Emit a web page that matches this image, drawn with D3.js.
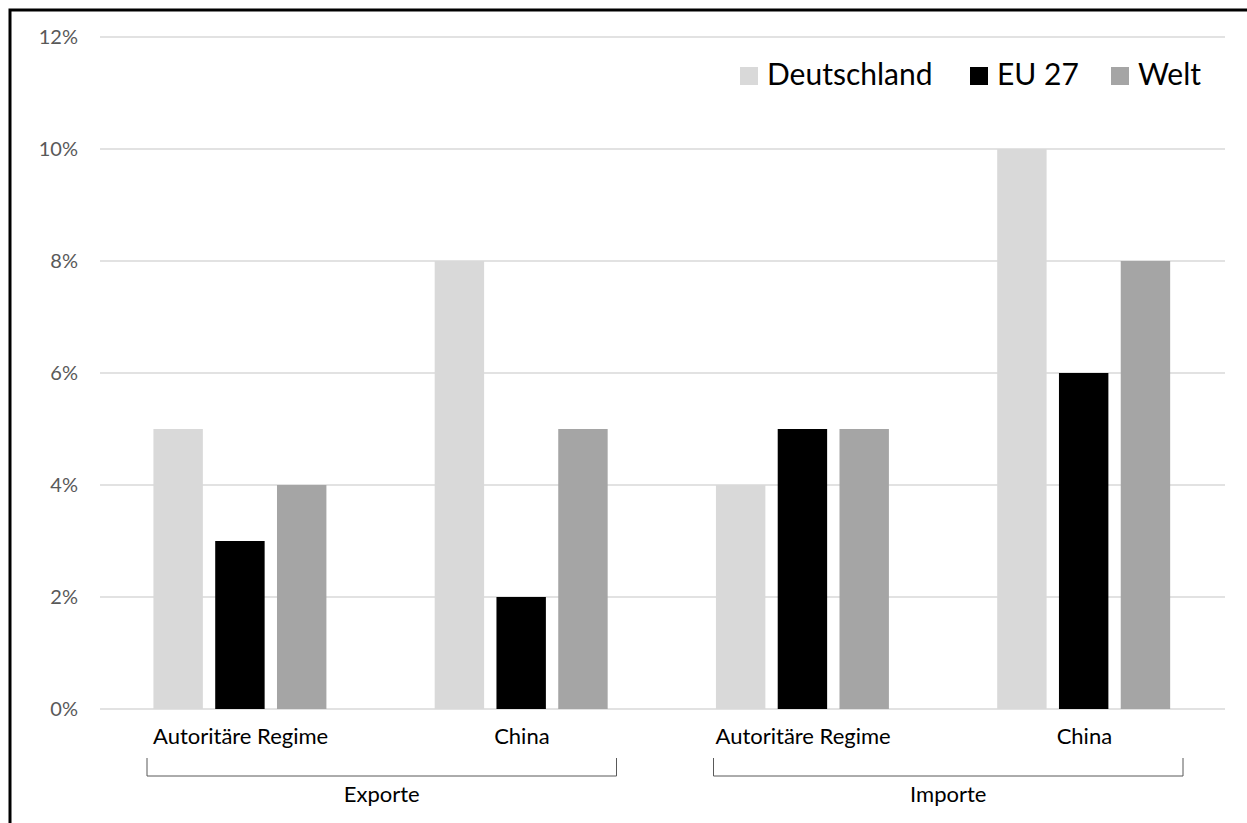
<!DOCTYPE html>
<meta charset="utf-8">
<style>
    body { margin: 0; background: #fff; }
    text { font-family: Lato, "Open Sans", sans-serif; }
</style>
<svg width="1247" height="823"></svg>
<script src="https://d3js.org/d3.v7.min.js"></script>
<script>
    // data
    var categories = ["Autoritäre Regime", "China", "Autoritäre Regime ", "China "];
    var groups = ["Exporte", "Importe"];
    var seriesNames = ["Deutschland", "EU 27", "Welt"];
    var deutschland = [5, 8, 4, 10];
    var eu27 = [3, 2, 5, 6];
    var welt = [4, 5, 5, 8];
    var yTicks = [0, 2, 4, 6, 8, 10, 12];
    var colors = ["#d9d9d9", "#000000", "#a5a5a5"];

    var svg = d3.select("svg"),
        margin = { top: 37, right: 22, bottom: 114, left: 100 },
        width = +svg.attr("width") - margin.left - margin.right,
        height = +svg.attr("height") - margin.top - margin.bottom;

    // outer frame (cut off at right/bottom like the reference)
    svg.append("rect")
        .attr("x", 10).attr("y", 10)
        .attr("width", 1260).attr("height", 840)
        .attr("fill", "none")
        .attr("stroke", "#000")
        .attr("stroke-width", 3);

    var g = svg.append("g")
        .attr("transform", "translate(" + margin.left + "," + margin.top + ")");

    var x0 = d3.scaleBand().domain(categories).range([0, width]);
    var bw = x0.bandwidth();
    var x1 = d3.scaleBand().domain(seriesNames)
        .range([bw * 0.19, bw * 0.805]).paddingInner(0.2);
    var y = d3.scaleLinear().domain([0, 12]).range([height, 0]);

    // gridlines
    g.append("g").selectAll("line")
        .data(yTicks)
        .enter().append("line")
        .attr("x1", 0).attr("x2", width)
        .attr("y1", function (d) { return y(d); })
        .attr("y2", function (d) { return y(d); })
        .attr("stroke", "#d9d9d9")
        .attr("stroke-width", 1.5);

    // y axis labels
    var yAxis = d3.axisLeft(y).tickValues(yTicks)
        .tickFormat(function (d) { return d + "%"; })
        .tickSize(0).tickPadding(22);
    g.append("g").call(yAxis)
        .call(function (a) { a.select(".domain").remove(); })
        .selectAll("text")
        .attr("fill", "#595959")
        .style("font-size", "20px")
        .style("font-family", "Lato, sans-serif");

    var rows = categories.map(function (c, i) {
        return { cat: c, vals: [deutschland[i], eu27[i], welt[i]] };
    });

    var cat = g.selectAll(".cat")
        .data(rows)
        .enter().append("g")
        .attr("class", "cat")
        .attr("transform", function (d) { return "translate(" + x0(d.cat) + ",0)"; });

    cat.selectAll("rect")
        .data(function (d) { return d.vals.map(function (v, j) { return { s: seriesNames[j], v: v, c: colors[j] }; }); })
        .enter().append("rect")
        .attr("x", function (d) { return x1(d.s); })
        .attr("width", x1.bandwidth())
        .attr("y", function (d) { return y(d.v); })
        .attr("height", function (d) { return y(0) - y(d.v); })
        .attr("fill", function (d) { return d.c; });

    // category labels
    cat.append("text")
        .attr("x", bw / 2)
        .attr("y", height + 35)
        .attr("text-anchor", "middle")
        .style("font-size", "22px")
        .attr("fill", "#000")
        .text(function (d) { return d.cat.trim(); });

    // group brackets
    groups.forEach(function (name, i) {
        var left = x0(categories[i * 2]) + 47 + i * 4;
        var right = x0(categories[i * 2 + 1]) + bw - 46 + i * 4;
        var top = height + 49, bot = height + 67;
        g.append("path")
            .attr("d", "M" + left + "," + top + "V" + bot + "H" + right + "V" + top)
            .attr("fill", "none")
            .attr("stroke", "#595959")
            .attr("stroke-width", 1);
        g.append("text")
            .attr("x", (left + right) / 2)
            .attr("y", height + 93)
            .attr("text-anchor", "middle")
            .style("font-size", "22px")
            .attr("fill", "#000")
            .text(name);
    });

    // legend
    var legX = [740, 970, 1111];
    var legend = svg.append("g").selectAll("g")
        .data(seriesNames)
        .enter().append("g")
        .attr("transform", function (d, i) { return "translate(" + legX[i] + ",67)"; });
    legend.append("rect")
        .attr("width", 18).attr("height", 18)
        .attr("fill", function (d, i) { return colors[i]; });
    legend.append("text")
        .attr("x", 27).attr("y", 18)
        .style("font-size", "30px")
        .attr("fill", "#000")
        .text(function (d) { return d; });
</script>
